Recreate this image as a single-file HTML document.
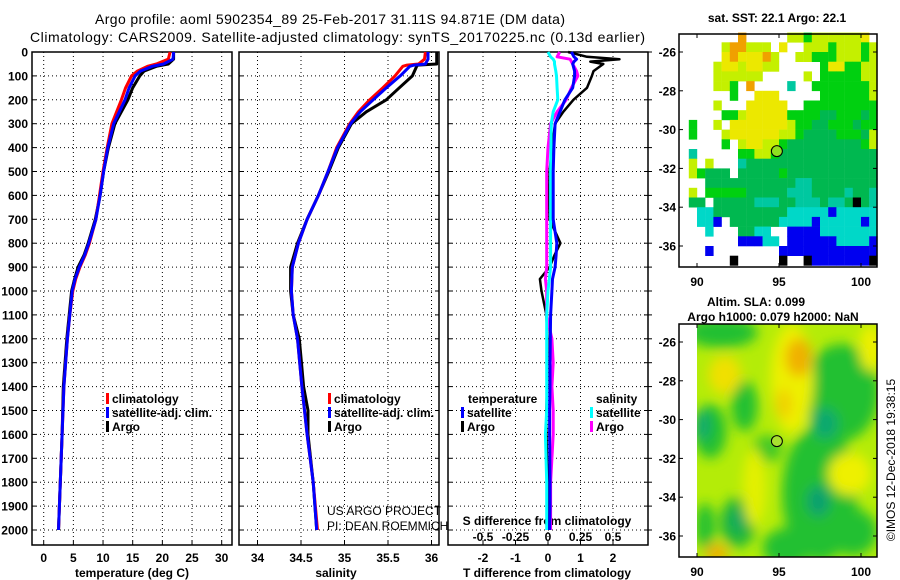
<!DOCTYPE html>
<html><head><meta charset="utf-8"><style>
html,body{margin:0;padding:0;background:#fff;}
svg{display:block;font-family:"Liberation Sans",sans-serif;}
.b{font-weight:bold;font-size:12px;}
</style></head><body>
<svg id="s" width="900" height="580" viewBox="0 0 900 580">
<defs><filter id="bl" x="-20%" y="-20%" width="140%" height="140%"><feGaussianBlur stdDeviation="6"/></filter>
<clipPath id="m2c"><rect x="697" y="34" width="180" height="233"/></clipPath></defs>
<text x="330" y="24" text-anchor="middle" font-size="14" textLength="470">Argo profile: aoml 5902354_89 25-Feb-2017 31.11S 94.871E (DM data)</text>
<text x="30" y="42" font-size="14" textLength="615">Climatology: CARS2009. Satellite-adjusted climatology: synTS_20170225.nc (0.13d earlier)</text>
<g id="g"></g>
</svg>
<script>
// ---- data ----
const tDepth=[0,30,50,60,80,100,150,200,300,400,500,600,700,800,850,900,950,1000,1100,1200,1400,1600,1800,2000];
const tClim=[21.3,21.0,19.0,17.5,15.8,14.8,13.8,13.1,11.5,10.7,10.0,9.4,8.8,7.7,7.0,6.1,5.4,4.9,4.4,4.0,3.4,3.1,2.8,2.5];
const tSat=[21.9,21.8,20.2,18.3,16.3,15.4,14.4,13.7,11.8,10.8,10.1,9.5,8.8,7.6,6.9,6.0,5.3,4.8,4.4,4.0,3.4,3.1,2.8,2.5];
const tArgo=[21.9,21.9,21.0,19.0,16.9,16.2,15.0,14.2,12.0,10.9,10.1,9.5,8.7,7.5,6.8,5.8,5.2,4.7,4.3,3.9,3.3,3.1,2.8,2.5];
const sDepth=[0,30,50,55,60,100,150,200,250,300,400,500,600,700,800,900,1000,1100,1200,1400,1500,1600,1800,2000];
const sClim=[35.93,35.92,35.85,35.72,35.67,35.58,35.44,35.29,35.16,35.06,34.91,34.81,34.70,34.57,34.47,34.40,34.39,34.41,34.46,34.51,34.54,34.57,34.64,34.69];
const sSat=[35.96,35.96,35.93,35.80,35.75,35.64,35.48,35.33,35.18,35.07,34.92,34.81,34.70,34.57,34.47,34.40,34.39,34.41,34.46,34.51,34.54,34.57,34.64,34.68];
const sArgo=[36.06,36.06,36.06,35.84,35.83,35.78,35.63,35.48,35.25,35.08,34.93,34.82,34.70,34.57,34.46,34.38,34.38,34.41,34.48,34.53,34.58,34.58,34.64,34.68];
const dDepth=[0,20,30,40,50,80,100,150,200,250,300,400,500,600,700,800,850,900,950,1000,1100,1200,1300,1400,1500,1600,1800,1900,2000];
const dTsat=[0.72,0.8,0.88,0.8,0.76,0.82,0.82,0.76,0.52,0.37,0.22,0.18,0.16,0.16,0.16,0.27,0.25,0.22,0.14,0.12,0.08,0.07,0.06,0.06,0.05,0.05,0.06,0.06,0.05];
const dTargo=[0.62,1.2,2.2,1.3,1.7,1.4,1.35,1.2,0.78,0.47,0.22,0.12,0.05,0.03,0.05,0.38,0.2,0.05,-0.25,-0.2,-0.05,-0.02,-0.03,-0.03,-0.05,-0.05,-0.01,0,0];
const dSsat=[0.0,0.02,0.04,0.05,0.05,0.06,0.065,0.07,0.075,0.04,0.025,0.022,0.02,0.02,0.02,0.02,0.02,0.02,0.01,0.0,-0.01,-0.01,-0.01,-0.01,-0.01,-0.02,-0.01,-0.01,-0.01];
const dSargo=[0.09,0.07,0.17,0.18,0.19,0.22,0.23,0.18,0.14,0.07,0.02,0.0,-0.01,-0.01,-0.01,-0.01,-0.01,-0.01,-0.02,-0.01,-0.01,0.03,0.04,0.03,0.04,0.04,0.02,0.02,0.02];
const depthTicks=[0,100,200,300,400,500,600,700,800,900,1000,1100,1200,1300,1400,1500,1600,1700,1800,1900,2000];
const tTicks=[0,5,10,15,20,25,30];
const sTicks=[34,34.5,35,35.5,36];
const dTTicks=[-2,-1,0,1,2];
const dSTicks=[-0.5,-0.25,0,0.25,0.5];
const lonTicks=[90,95,100];
const latTicks=[-26,-28,-30,-32,-34,-36];
const sstGrid=[
".......o.....llglllllly",
".....loolll.y..lllglllgll",
".....yoyyyol..llggglllgl",
"....lyylyyll.....gyyggll",
"....llllll.....l.gggggll",
"....llg.o....c..gggggggl",
"......g..yyy.....ggggggl",
"....l...yyyyy..ggggggggg",
".....gglyyyyyggggGGgggGg",
".g..l.yyyyyyylggGGgggGgg",
".g...lyyyyyyllgGGGGgggGl",
".....g.lyyllgGGGGGGGGGgl",
".c.....ggllgGGGGGGGGGGGG",
".l.l...cGGGGGGGGGGGGGGGG",
".lgGGG.GGGGGgGGGGGGGGGGG",
"...GGGGGGGGGGGccGGGGGGGG",
".l.gggggGGGGGcccGGGGcGGc",
".GG.GGGGGcccGGcccGccGkGc",
"..CCGGGGGGGGGCCCCCbCCCCC",
"..CCb.GGGGGGCCCCbCCCCCbC",
"...C...GGCC..bbbbCCCCCCC",
".......bbbCC.bbbbbbCCCCb",
"...b........bbbbbbbbbbbb",
"......k.....k..kbbbbbbbk"];
const sstColors={o:"#f0a000",y:"#ece800",l:"#c4f000",g:"#00d010",G:"#00b850",c:"#00c8a0",C:"#00d8c8",b:"#0000f0",k:"#000000"};
const slaBlobs=[ // lon, lat, rx(deg), ry(deg), color
[91.5,-25.5,2.2,0.8,"#20c030"],[92.9,-29.3,0.8,1.3,"#20c030"],[90.8,-30.6,1.0,1.4,"#20c030"],[98.8,-28.6,2.3,2.5,"#20c030"],
[97.5,-33.8,2.3,3.5,"#20c030"],[95.5,-36.6,1.5,1.0,"#20c030"],[92.5,-35.3,1.1,1.3,"#20b838"],[99.5,-35.8,1.5,1.2,"#20c030"],
[90.5,-35.5,0.6,1.2,"#20c030"],[94.3,-31.5,0.9,0.7,"#40c828"],
[95.8,-27.9,1.3,2.8,"#eef000"],[96.2,-26.8,0.8,1.0,"#f0b000"],[95.3,-29.2,0.5,0.8,"#f0d000"],[91.7,-27.7,1.0,1.0,"#f0e000"],
[99.3,-32.8,1.3,1.1,"#eef000"],[100.6,-26.3,0.7,1.2,"#eef000"],[93.5,-33.5,0.7,2.0,"#e4f000"],[91.2,-36.9,0.7,0.5,"#f0b000"],
[90.3,-30.3,0.5,0.8,"#10a870"],[97.8,-30.2,0.8,0.8,"#10a870"],[97.4,-34.2,0.7,0.8,"#10a070"],[92.5,-35.2,0.5,0.6,"#10a860"]];

const NS="http://www.w3.org/2000/svg";
const G=document.getElementById('g');
function mk(tag,at,parent){const e=document.createElementNS(NS,tag);for(const k in at)e.setAttribute(k,at[k]);(parent||G).appendChild(e);return e;}
function tx(x,y,str,at){const e=mk('text',Object.assign({x:x,y:y},at||{}));e.textContent=str;return e;}

const yTop=52,yBot=545;
const yD=d=>52+d*0.239;
const xT=v=>43.7+v*5.933;
const xS=v=>257.5+(v-34)*87;
const xDT=v=>548+v*32.5;
const xDS=v=>548+v*130;
const panels=[{x0:32,x1:232},{x0:239,x1:439},{x0:448,x1:648}];

panels.forEach((p,i)=>{
  const fr=mk('rect',{x:p.x0,y:yTop,width:p.x1-p.x0,height:yBot-yTop,fill:'none',stroke:'#000','stroke-width':1.5});
  
  
  depthTicks.forEach(d=>{
    const l=mk('line',{x1:p.x0,x2:p.x1,y1:yD(d),y2:yD(d),stroke:'#000','stroke-dasharray':'1 3','stroke-width':1});
    
    
    mk('line',{x1:p.x0,x2:p.x0+4,y1:yD(d),y2:yD(d),stroke:'#000'});
    mk('line',{x1:p.x1-4,x2:p.x1+(i==2?4:0),y1:yD(d),y2:yD(d),stroke:'#000'});
  });
});
depthTicks.forEach(d=>{const t=tx(28,yD(d)+4.5,String(d),{class:'b','text-anchor':'end'});
  
  });
function vgrid(ticks,fx,p,lbl){ticks.forEach(v=>{
  const l=mk('line',{x1:fx(v),x2:fx(v),y1:yTop,y2:yBot,stroke:'#000','stroke-dasharray':'1 3'});
  
  
  mk('line',{x1:fx(v),x2:fx(v),y1:yBot,y2:yBot-4,stroke:'#000'});
  if(lbl){const t=tx(fx(v),562,String(v),{class:'b','text-anchor':'middle'});
  
  }
});}
vgrid(tTicks,xT,panels[0],true);
vgrid(sTicks,xS,panels[1],true);
vgrid(dTTicks,xDT,panels[2],true);
dSTicks.forEach(v=>{const t=tx(xDS(v),541,String(v),{class:'b','text-anchor':'middle'});
  
  });
[[132,'temperature (deg C)','x-axis-title-temperature'],[336,'salinity','x-axis-title-salinity'],[547,'T difference from climatology','x-axis-title-t-diff']].forEach(a=>{
  const t=tx(a[0],577,a[1],{class:'b','text-anchor':'middle'});
  
  });
{const t=tx(547,525,'S difference from climatology',{class:'b','text-anchor':'middle'});

}

function line(depths,vals,fx,color,name,w){
  const pts=depths.map((d,i)=>fx(vals[i]).toFixed(1)+','+yD(d).toFixed(1)).join(' ');
  const e=mk('polyline',{points:pts,fill:'none',stroke:color,'stroke-width':w||3,'stroke-linejoin':'round'});
  
  
}
line(tDepth,tArgo,xT,'#000','temperature-argo-line');
line(tDepth,tClim,xT,'#f00','temperature-climatology-line');
line(tDepth,tSat,xT,'#00f','temperature-satellite-line');
line(sDepth,sArgo,xS,'#000','salinity-argo-line');
line(sDepth,sClim,xS,'#f00','salinity-climatology-line');
line(sDepth,sSat,xS,'#00f','salinity-satellite-line');
line(dDepth,dTargo,xDT,'#000','t-diff-argo-line',2.5);
line(dDepth,dSargo,xDS,'#f0f','s-diff-argo-line',3);
line(dDepth,dSsat,xDS,'#0ff','s-diff-satellite-line',3);
line(dDepth,dTsat,xDT,'#00f','t-diff-satellite-line',3);

function leg(x,y,color,label,nm){
  mk('rect',{x:x,y:y-10,width:3,height:11,fill:color});
  const t=tx(x+6,y,label,{class:'b'});
  
  
}
[[106,'climatology','#f00'],[106,'satellite-adj. clim.','#00f'],[106,'Argo','#000']].forEach((a,i)=>leg(a[0],403+i*14,a[2],a[1],'legend-entry-temp-'+i));
[[328,'climatology','#f00'],[328,'satellite-adj. clim.','#00f'],[328,'Argo','#000']].forEach((a,i)=>leg(a[0],403+i*14,a[2],a[1],'legend-entry-sal-'+i));
{const t=tx(468,403,'temperature',{class:'b'});}
{const t=tx(596,403,'salinity',{class:'b'});}
leg(461,417,'#00f','satellite','legend-t-satellite');leg(461,431,'#000','Argo','legend-t-argo');
leg(590,417,'#0ff','satellite','legend-s-satellite');leg(590,431,'#f0f','Argo','legend-s-argo');
{const t=tx(327,515,'US ARGO PROJECT',{'font-size':12});
const u=tx(327,530,'PI: DEAN ROEMMICH',{'font-size':12});}

// maps
const xL=v=>697+(v-90)*16.4;
function mapFrame(top){return v=>top+18+(-26-v)*19.4;}
const yL1=mapFrame(34), yL2=mapFrame(324);
sstGrid.forEach((row,r)=>{for(let c=0;c<24&&c<row.length;c++){const ch=row[c];if(ch==='.'||!sstColors[ch])continue;
  const x0=xL(89+c*0.5),y0=yL1(-25-r*0.5);
  const e=mk('rect',{x:x0.toFixed(1),y:y0.toFixed(1),width:8.4,height:10,fill:sstColors[ch]});
  
  
}});
const m2=mk('g',{'clip-path':'url(#m2c)',transform:'translate(0,290)'});


mk('rect',{x:697,y:34,width:180,height:233,fill:'#b4ec08'},m2);
const bg=mk('g',{filter:'url(#bl)'},m2);
slaBlobs.forEach(b=>{const e=mk('ellipse',{cx:xL(b[0]),cy:yL2(b[1])-290,rx:b[2]*16.4,ry:b[3]*19.4,fill:b[4]},bg);
  
  });
[[34,yL1,'sst-map'],[324,yL2,'sla-map']].forEach(m=>{
  const top=m[0],yL=m[1];
  const fr=mk('rect',{x:679,y:top,width:198,height:233,fill:'none',stroke:'#000','stroke-width':1.5});
  
  
  lonTicks.forEach(v=>{mk('line',{x1:xL(v),x2:xL(v),y1:top,y2:top+4,stroke:'#000'});mk('line',{x1:xL(v),x2:xL(v),y1:top+233,y2:top+229,stroke:'#000'});
    const t=tx(xL(v),top+252,String(v),{class:'b','text-anchor':'middle'});
    
    });
  latTicks.forEach(v=>{mk('line',{x1:679,x2:683,y1:yL(v),y2:yL(v),stroke:'#000'});mk('line',{x1:873,x2:877,y1:yL(v),y2:yL(v),stroke:'#000'});
    const t=tx(676,yL(v)+4.5,String(v),{class:'b','text-anchor':'end'});
    
    });
  const c=mk('circle',{cx:xL(94.871),cy:yL(-31.11),r:5.5,fill:top<100?'#90e020':'#a8e030',stroke:'#000','stroke-width':1});
  
  
});
[[777,22,'sat. SST: 22.1 Argo: 22.1','sst-map-title'],[756,306,'Altim. SLA: 0.099','sla-map-title'],[773,321,'Argo h1000: 0.079 h2000: NaN','sla-map-subtitle']].forEach(a=>{
  const t=tx(a[0],a[1],a[2],{class:'b','text-anchor':'middle'});
  
  });
{const t=tx(0,0,'©IMOS 12-Dec-2018 19:38:15',{'font-size':12,'text-anchor':'middle',transform:'translate(895,460) rotate(-90)'});
}
</script>
</body></html>
